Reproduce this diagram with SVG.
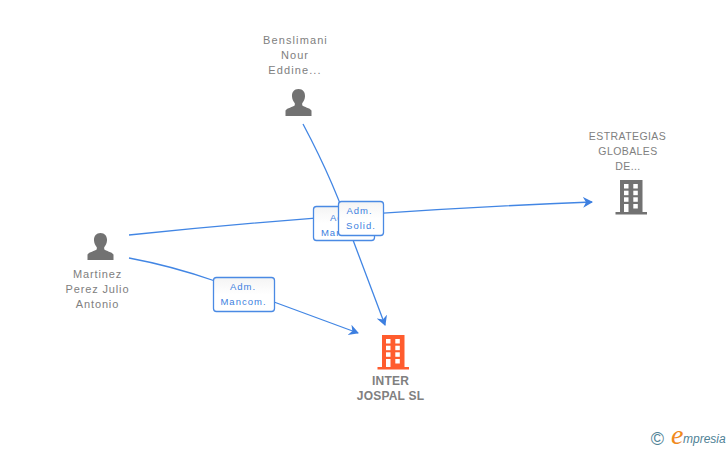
<svg xmlns="http://www.w3.org/2000/svg" width="728" height="450" viewBox="0 0 728 450">
<style>
text{font-family:"Liberation Sans",Arial,sans-serif}
.n{font-size:11px;letter-spacing:1.1px;fill:#808080;text-anchor:middle}
.n2{font-size:11px;letter-spacing:.85px;fill:#808080;text-anchor:middle}
.c{font-size:10.5px;letter-spacing:.42px;fill:#808080;text-anchor:middle}
.b{font-size:12px;font-weight:bold;letter-spacing:.2px;fill:#808080;text-anchor:middle}
.l{font-size:9.500px;letter-spacing:1px;fill:#3d7fe0;text-anchor:middle}
.e{fill:none;stroke:#4286e4;stroke-width:1.3}
.box{fill:url(#g);stroke:#4a8ae4;stroke-width:1.3}
.w{fill:#fff}
</style>
<defs>
<linearGradient id="g" x1="0" y1="0" x2="0" y2="1"><stop offset="0" stop-color="#f4f4f4"/><stop offset=".5" stop-color="#fff"/></linearGradient>
<marker id="a" markerUnits="userSpaceOnUse" markerWidth="12" markerHeight="12" refX="9" refY="6" orient="auto"><path d="M0 .5L10 6L0 11.500L3 6Z" fill="#3d7fe0"/></marker>
<g id="person"><path d="M0 0C-4.500 0-6.800 3.400-6.500 7.500C-6.300 10.200-5.200 12.500-3.700 14.200V16.200C-5.500 18.200-11.500 18.800-13 21.500V27H13V21.500C11.500 18.800 5.500 18.200 3.700 16.200V14.200C5.200 12.500 6.300 10.200 6.500 7.500C6.800 3.400 4.500 0 0 0Z" fill="#727272"/></g>
<g id="bld"><path d="M4.500 0H27V32H31.500V34.500H0V32H4.500Z"/><g class="w"><rect x="8.500" y="4" width="4.500" height="4.500"/><rect x="17.800" y="4" width="4.500" height="4.500"/><rect x="8.500" y="10.700" width="4.500" height="4.500"/><rect x="17.800" y="10.700" width="4.500" height="4.500"/><rect x="8.500" y="17.300" width="4.500" height="4.500"/><rect x="17.800" y="17.300" width="4.500" height="4.500"/><rect x="8.500" y="24" width="4.500" height="8"/><rect x="17.800" y="24" width="4.500" height="4.500"/></g></g>
</defs>
<rect width="728" height="450" fill="#fff"/>
<g id="connectors">
<path class="e" d="M129 235Q360 211 592 202" marker-end="url(#a)"/>
<path class="e" d="M303 124Q336 186 353 240L385 325" marker-end="url(#a)"/>
<path class="e" d="M129 258Q172 266 215 281"/>
<path class="e" d="M274 302L358 333" marker-end="url(#a)"/>
</g>
<g id="label-mancom-2"><rect class="box" x="313.500" y="206.500" width="61" height="34" rx="3"/><text class="l" x="343" y="221">Adm.</text><text class="l" x="344" y="236">Mancom.</text></g>
<g id="label-solid"><rect class="box" x="338.500" y="201.500" width="45" height="34" rx="3"/><text class="l" x="359.500" y="214">Adm.</text><text class="l" x="361" y="229">Solid.</text></g>
<g id="label-mancom-1"><rect class="box" x="213.500" y="277.500" width="61" height="34" rx="3"/><text class="l" x="243" y="290">Adm.</text><text class="l" x="243.500" y="305">Mancom.</text></g>
<g id="node-benslimani"><text class="n" x="295.500" y="44">Benslimani</text><text class="n" x="295" y="59">Nour</text><text class="n" x="295" y="74">Eddine...</text><use href="#person" x="298.500" y="89"/></g>
<g id="node-martinez"><use href="#person" x="100.500" y="233"/><text class="n2" x="97.500" y="278">Martinez</text><text class="n2" x="97.500" y="293">Perez Julio</text><text class="n2" x="97.500" y="308">Antonio</text></g>
<g id="node-estrategias"><text class="c" x="627.500" y="140">ESTRATEGIAS</text><text class="c" x="628" y="155">GLOBALES</text><text class="c" x="628" y="170">DE...</text><use href="#bld" x="615.500" y="180" fill="#727272"/></g>
<g id="node-inter"><use href="#bld" x="377.500" y="335" fill="#ff5c2e"/><text class="b" x="390.500" y="385">INTER</text><text class="b" x="390.500" y="400">JOSPAL SL</text></g>
<g id="logo"><text x="657.500" y="444.500" font-size="18" fill="#4f8296" text-anchor="middle">©</text><text x="671" y="444" font-size="28" font-style="italic" fill="#f08a1d" style="font-family:'Liberation Serif',serif">e</text><text x="683" y="443" font-size="12" font-style="italic" fill="#4f8296">mpresia</text></g>
</svg>
